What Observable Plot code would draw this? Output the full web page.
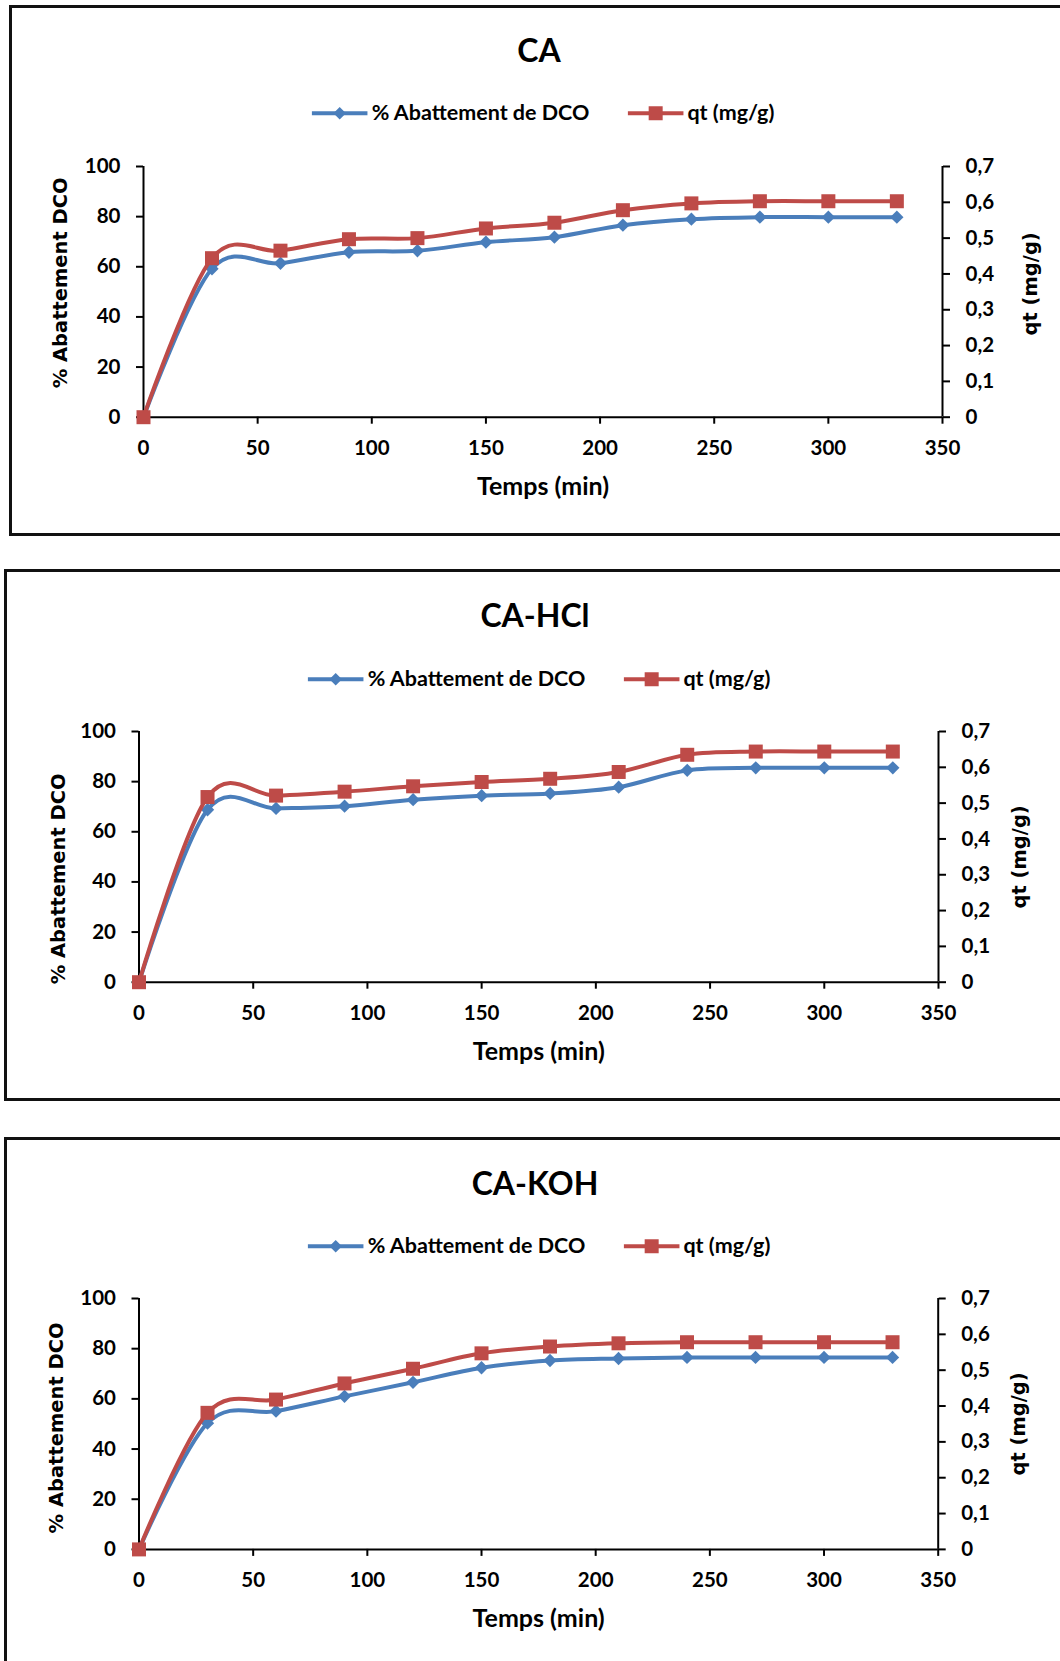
<!DOCTYPE html>
<html><head><meta charset="utf-8">
<script src="https://cdn.jsdelivr.net/npm/d3@7"></script>
<script src="https://cdn.jsdelivr.net/npm/@observablehq/plot@0.6"></script>
<style>
html,body{margin:0;padding:0;background:#fff;}
body{width:1060px;height:1661px;position:relative;overflow:hidden;font-family:Lato,"Open Sans",sans-serif;}
.box{position:absolute;border:3px solid #111;box-sizing:border-box;width:1120px;}
.title{position:absolute;transform:translate(-50%,-50%);font-weight:bold;font-size:32px;font-family:Lato,sans-serif;white-space:nowrap;color:#000;line-height:1;}
.legend{position:absolute;transform:translate(-50%,-50%);display:flex;align-items:center;font-weight:bold;font-size:21.5px;font-family:Lato,sans-serif;white-space:nowrap;color:#000;line-height:1;}
.legend .item{display:flex;align-items:center;}
.legend svg{display:block;margin-right:4px;}
.plot{position:absolute;left:0;}
</style></head><body>
<script>
// ---- data ----
const times = [0,30,60,90,120,150,180,210,240,270,300,330];
const titles = ["CA","CA-HCl","CA-KOH"];
const dcoCA  = [0,59.2,61.4,65.8,66.4,69.8,71.8,76.6,79.0,79.8,79.8,79.8];
const qtCA   = [0,0.444,0.465,0.497,0.500,0.527,0.543,0.578,0.597,0.603,0.603,0.603];
const dcoHCl = [0,68.8,69.3,70.2,72.8,74.4,75.3,77.8,84.5,85.5,85.5,85.5];
const qtHCl  = [0,0.517,0.521,0.532,0.547,0.559,0.568,0.587,0.635,0.644,0.644,0.644];
const dcoKOH = [0,50.3,55.1,61.0,66.6,72.4,75.3,76.1,76.5,76.5,76.5,76.5];
const qtKOH  = [0,0.381,0.418,0.463,0.504,0.547,0.566,0.575,0.578,0.578,0.578,0.578];
const xTicks = [0,50,100,150,200,250,300,350];
const yTicksLeft = [0,20,40,60,80,100];
const yTicksRight = [0,0.1,0.2,0.3,0.4,0.5,0.6,0.7];
const seriesNames = ["% Abattement de DCO","qt (mg/g)"];
const xTitle = "Temps (min)";
const yLeftTitle = "% Abattement DCO";
const yRightTitle = "qt (mg/g)";

// ---- styling / layout ----
const BLUE = "#4A7EBB", RED = "#BE4B48";
const W = 1060, H = 529, MT = 160;
const layout = [
  {box:{left:9,top:5,height:531}, frame:{left:143,right:942,top:166,bottom:416.7},
   title:{x:539,y:50}, legend:{x:543,y:113}, lt:{dx:-83,dy:-9}, rt:{dx:88,dy:-8}},
  {box:{left:4,top:569,height:532}, frame:{left:138.5,right:938,top:730.7,bottom:981.4},
   title:{x:535,y:614.6}, legend:{x:539,y:679}, lt:{dx:-80.5,dy:22}, rt:{dx:81,dy:0}},
  {box:{left:4,top:1137,height:600}, frame:{left:138.5,right:937.7,top:1297.7,bottom:1548.6},
   title:{x:535,y:1183}, legend:{x:539,y:1246}, lt:{dx:-82.5,dy:4}, rt:{dx:81,dy:0}}
];
const panels = [[dcoCA,qtCA],[dcoHCl,qtHCl],[dcoKOH,qtKOH]];
const fmtRight = d => d === 0 ? "0" : String(d).replace(".", ",");

function legendSwatch(color, symbolType, size) {
  const ns = "http://www.w3.org/2000/svg";
  const svg = document.createElementNS(ns, "svg");
  svg.setAttribute("width", 56); svg.setAttribute("height", 18);
  const line = document.createElementNS(ns, "line");
  line.setAttribute("x1", 0); line.setAttribute("x2", 56);
  line.setAttribute("y1", 9); line.setAttribute("y2", 9);
  line.setAttribute("stroke", color); line.setAttribute("stroke-width", 4);
  svg.appendChild(line);
  const p = document.createElementNS(ns, "path");
  p.setAttribute("d", d3.symbol(symbolType, size)());
  p.setAttribute("transform", "translate(28,9)");
  p.setAttribute("fill", color);
  svg.appendChild(p);
  return svg;
}

panels.forEach(([dco, qt], i) => {
  const L = layout[i], f = L.frame;
  const box = document.createElement("div");
  box.className = "box";
  box.style.left = L.box.left + "px"; box.style.top = L.box.top + "px"; box.style.height = L.box.height + "px";
  document.body.appendChild(box);

  const mb = H - MT - (f.bottom - f.top);
  const common = {
    width: W, height: H,
    marginLeft: f.left, marginRight: W - f.right, marginTop: MT, marginBottom: mb,
    style: {background: "transparent", overflow: "visible", fontFamily: "Lato, sans-serif", fontSize: "20.5px", fontWeight: "bold", color: "#000"}
  };
  const dataA = times.map((t, j) => ({t, v: dco[j]}));
  const dataB = times.map((t, j) => ({t, v: qt[j]}));
  const axisOpts = {tickSize: 7, tickPadding: 16, label: null, strokeWidth: 2, fontSize: 20.5, fontWeight: "bold", fill: "#000"};
  const titleOpts = {text: d => d, rotate: -90, textAnchor: "middle", lineAnchor: "middle",
    fontFamily: "DejaVu Sans, sans-serif", fontSize: 19.5, fontWeight: "bold", fill: "#000"};

  const plotA = Plot.plot({
    ...common,
    x: {domain: [0, 350]},
    y: {domain: [0, 100]},
    marks: [
      Plot.axisX({...axisOpts, ticks: xTicks}),
      Plot.axisY({...axisOpts, ticks: yTicksLeft}),
      Plot.ruleX([0], {stroke: "#000", strokeWidth: 2}),
      Plot.ruleY([0], {stroke: "#000", strokeWidth: 2}),
      Plot.text([yLeftTitle], {...titleOpts, frameAnchor: "left", dx: L.lt.dx, dy: L.lt.dy}),
      Plot.text([xTitle], {text: d => d, frameAnchor: "bottom", dy: 70, textAnchor: "middle", lineAnchor: "middle",
        fontSize: 25, fontWeight: "bold", fill: "#000"}),
      Plot.line(dataA, {x: "t", y: "v", stroke: BLUE, strokeWidth: 4, curve: "cardinal"}),
      Plot.dot(dataA, {x: "t", y: "v", symbol: "diamond2", r: 6, fill: BLUE, stroke: "none"})
    ]
  });
  plotA.classList.add("plot");
  plotA.style.position = "absolute";
  plotA.style.top = (f.top - MT) + "px";
  document.body.appendChild(plotA);

  const plotB = Plot.plot({
    ...common,
    x: {domain: [0, 350], axis: null},
    y: {domain: [0, 0.7]},
    marks: [
      Plot.axisY({...axisOpts, anchor: "right", ticks: yTicksRight, tickFormat: fmtRight}),
      Plot.ruleX([350], {stroke: "#000", strokeWidth: 2}),
      Plot.text([yRightTitle], {...titleOpts, frameAnchor: "right", dx: L.rt.dx, dy: L.rt.dy}),
      Plot.line(dataB, {x: "t", y: "v", stroke: RED, strokeWidth: 4, curve: "cardinal"}),
      Plot.dot(dataB, {x: "t", y: "v", symbol: "square", r: 7.9, fill: RED, stroke: "none"})
    ]
  });
  plotB.classList.add("plot");
  plotB.style.position = "absolute";
  plotB.style.top = (f.top - MT) + "px";
  document.body.appendChild(plotB);

  const t = document.createElement("div");
  t.className = "title"; t.textContent = titles[i];
  t.style.left = L.title.x + "px"; t.style.top = L.title.y + "px";
  document.body.appendChild(t);

  const lg = document.createElement("div");
  lg.className = "legend";
  lg.style.left = L.legend.x + "px"; lg.style.top = L.legend.y + "px";
  const it1 = document.createElement("div"); it1.className = "item";
  it1.appendChild(legendSwatch(BLUE, d3.symbolDiamond2, 100));
  it1.appendChild(document.createTextNode(seriesNames[0]));
  const it2 = document.createElement("div"); it2.className = "item";
  it2.style.marginLeft = "38px";
  it2.appendChild(legendSwatch(RED, d3.symbolSquare, 196));
  it2.appendChild(document.createTextNode(seriesNames[1]));
  lg.appendChild(it1); lg.appendChild(it2);
  document.body.appendChild(lg);
});
</script>
</body></html>
